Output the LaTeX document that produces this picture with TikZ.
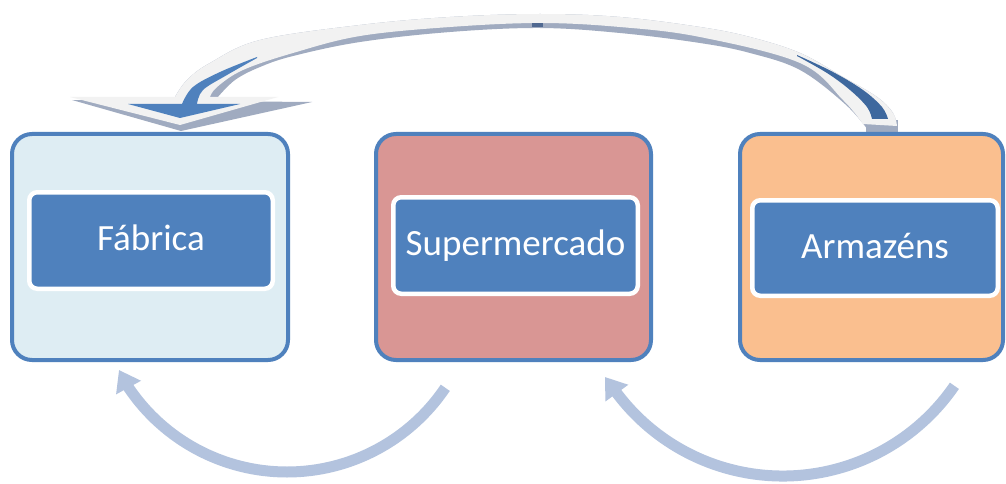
\documentclass[tikz,border=0pt]{standalone}
\usepackage{fontspec}
\setmainfont{Carlito}
\usetikzlibrary{arrows.meta}
\definecolor{boxblue}{RGB}{79,129,189}
\definecolor{fabfill}{RGB}{222,237,243}
\definecolor{supfill}{RGB}{217,150,148}
\definecolor{armfill}{RGB}{250,191,143}
\definecolor{cyclec}{RGB}{179,195,222}
\definecolor{lightc}{RGB}{242,242,242}
\definecolor{shadowc}{RGB}{160,171,192}
\definecolor{stripec}{RGB}{62,104,158}
\definecolor{peakc}{RGB}{80,105,145}
\begin{document}
\begin{tikzpicture}[x=1pt,y=-1pt,
  outerbox/.style={draw=boxblue, line width=4pt, rounded corners=20pt, inner sep=0pt, minimum height=226pt},
  innerbox/.style={draw=white, fill=boxblue, line width=4.5pt, rounded corners=8pt, text=white,
    font=\fontsize{37}{44}\selectfont, text height=30pt, text depth=10pt, inner sep=0pt, minimum height=96.5pt},
  cyc/.style={draw=cyclec, line width=11pt, -{Triangle[width=27pt,length=20pt]}},
  shadowfill/.style={fill=shadowc},
  lightfill/.style={fill=lightc},
  bluefill/.style={fill=boxblue},
  stripefill/.style={fill=stripec}]
\useasboundingbox (0,0) rectangle (1006,484);
\fill[white] (0,0) rectangle (1006,484);

% ---- top curved 3D arrow (Armazéns -> Fábrica) ----
\coordinate (topstart) at (882,132);
\coordinate (tophead) at (181,131);
% shadow of the shaft
\fill[shadowfill] plot[smooth, tension=0.6] coordinates {(897,127) (893,113) (877,97) (843,77) (800,53) (750,37) (700,27) (620,17) (540,14) (450,17) (360,25) (260,40) (210,63) (187,80) (175,97)}
  -- plot[smooth, tension=0.6] coordinates {(217,98) (235,80) (260,67) (293,56) (360,42) (450,32) (540,28) (620,33) (700,43) (750,53) (800,70) (845,104) (868,130)} -- cycle;
\fill[shadowfill] (866,120) rectangle (898,133);
% shadow of the head
\fill[shadowfill] (72,100) -- (312,102) -- (tophead) -- cycle;
% light face of the shaft
\fill[lightfill] plot[smooth, tension=0.6] coordinates {(897,126) (893,113) (877,97) (843,77) (800,53) (750,37) (700,27) (620,17) (540,14) (450,17) (360,25) (260,40) (210,63) (187,80) (175,97)}
  -- plot[smooth, tension=0.6] coordinates {(210,97) (217,87) (243,70) (293,53) (360,36) (450,27) (540,23) (620,27) (700,37) (800,63) (843,100) (863,124)} -- cycle;
% light face of the head
\fill[lightfill] (70,97) -- (278,97) -- (180,125) -- cycle;
% blue inner head
\fill[bluefill] (128,104) -- (240,104) -- (180,118) -- cycle;
% blue stripe near the head
\fill[bluefill] plot[smooth, tension=0.6] coordinates {(182,104) (193,87) (220,72) (257,57)}
  -- plot[smooth, tension=0.6] coordinates {(257,58) (227,75) (203,90) (197,104)} -- cycle;
% dark stripe near the start
\fill[stripefill] plot[smooth, tension=0.6] coordinates {(797,55) (833,72) (863,90) (882,107) (888,119)}
  -- plot[smooth, tension=0.6] coordinates {(872,119) (867,107) (850,90) (827,73) (797,56)} -- cycle;
\fill[peakc] (532,23) rectangle (543,27.5);

% ---- boxes ----
\node[outerbox, fill=fabfill, minimum width=276pt] (fab) at (150,247) {};
\node[outerbox, fill=supfill, minimum width=275pt] (sup) at (513.5,247) {};
\node[outerbox, fill=armfill, minimum width=263pt] (arm) at (871.5,247) {};

\node[innerbox, minimum width=243.5pt] (fabl) at (151,240.5) {Fábrica};
\node[innerbox, minimum width=244.5pt] (supl) at (515.5,245.5) {Supermercado};
\node[innerbox, minimum width=245.5pt, minimum height=95.5pt] (arml) at (875,248) {Armazéns};

% ---- bottom cycle arrows ----
\coordinate (c1s) at (445.3,387.8);
\coordinate (c1m) at (287,472);
\coordinate (c1e) at (128.7,387.8);
\coordinate (c1t) at (119,370);
\draw[cyc] (c1s) .. controls (409.8,440.4) and (350.5,472) .. (c1m)
  .. controls (223.5,472) and (164.2,440.4) .. (c1e) -- (c1t);

\coordinate (c2s) at (954.4,385.8);
\coordinate (c2m) at (786.6,476);
\coordinate (c2e) at (616.2,392.3);
\coordinate (c2t) at (605,377);
\draw[cyc] (c2s) .. controls (916.4,441.1) and (853.7,474.8) .. (c2m)
  .. controls (719.5,477.2) and (656.3,446.1) .. (c2e) -- (c2t);
\end{tikzpicture}
\end{document}
